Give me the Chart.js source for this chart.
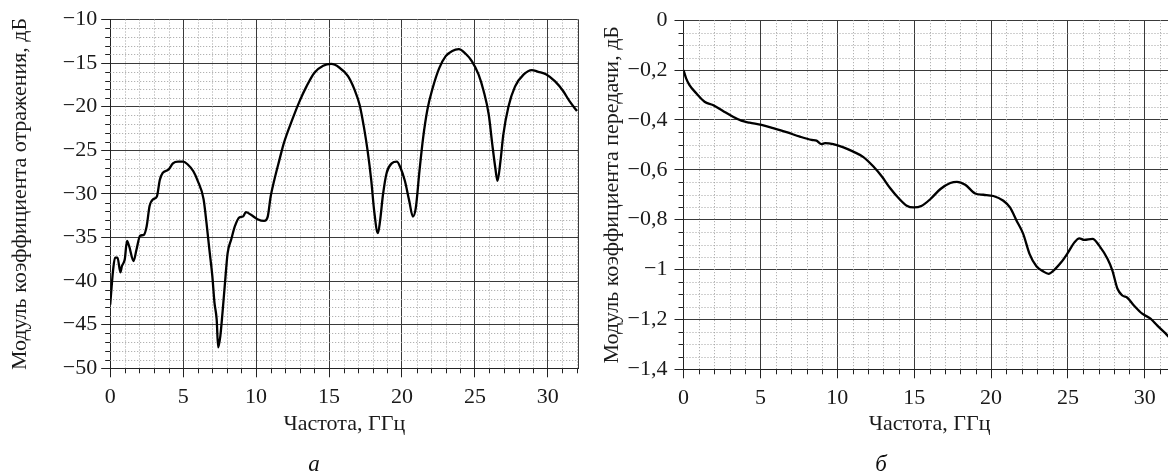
<!DOCTYPE html>
<html lang="ru">
<head>
<meta charset="utf-8">
<title>Модуль коэффициентов отражения и передачи</title>
<script src="https://cdn.jsdelivr.net/npm/chart.js@4.4.1/dist/chart.umd.min.js"></script>
<style>
  html, body { margin: 0; padding: 0; background: #fff; }
  body { width: 1168px; height: 472px; overflow: hidden; position: relative; }
  canvas { position: absolute; top: 0; }
  #chart-a { left: 0; }
  #chart-b { left: 584px; }
  .sub {
    position: absolute;
    font: italic 23px "Liberation Serif", "Times New Roman", serif;
    color: #111;
    line-height: 1;
    transform: translate(-50%, -50%);
  }
</style>
</head>
<body>
<canvas id="chart-a" width="584" height="472"></canvas>
<canvas id="chart-b" width="600" height="472"></canvas>
<div class="sub" style="left:314px; top:463px">а</div>
<div class="sub" style="left:881px; top:463px">б</div>
<script>
  'use strict';

  // (a) reflection, dB
  const freqA = [
    0, 0.1, 0.2, 0.33, 0.5, 0.7, 0.8, 1.0, 1.15, 1.3, 1.6, 1.8, 2.05, 2.3, 2.5, 2.7, 2.95, 3.2, 3.4, 3.6,
    4.0, 4.3, 4.65, 5.0, 5.3, 5.7, 6.0, 6.4, 6.6, 6.8, 7.0, 7.15, 7.3, 7.4, 7.55, 7.7, 7.85, 8.05, 8.3, 8.55,
    8.85, 9.1, 9.3, 9.65, 10.1, 10.55, 10.8, 11.0, 11.25, 11.6, 11.9, 12.5, 13.0, 13.45, 14.0, 14.6, 15.15, 15.7, 16.3, 16.75,
    17.1, 17.4, 17.65, 17.9, 18.1, 18.35, 18.5, 18.7, 18.95, 19.3, 19.65, 19.9, 20.2, 20.5, 20.75, 20.95, 21.2, 21.45, 21.75, 22.1,
    22.55, 23.0, 23.45, 23.9, 24.35, 24.8, 25.25, 25.6, 25.95, 26.2, 26.4, 26.55, 26.75, 26.95, 27.3, 27.75, 28.35, 28.9, 29.35, 29.9,
    30.5, 31.05, 31.5, 32.0
  ];
  const reflA = [
    -42.7, -40.6, -38.7, -37.3, -37.3, -39.0, -38.3, -37.5, -35.4, -36.0, -37.7, -36.4, -34.8, -34.7, -33.7, -31.4, -30.6, -30.3, -28.4, -27.6,
    -27.2, -26.5, -26.3, -26.3, -26.6, -27.4, -28.5, -30.6, -33.3, -36.4, -39.4, -42.5, -44.4, -47.6, -46.3, -43.6, -40.6, -36.8, -35.2, -33.7,
    -32.7, -32.6, -32.1, -32.4, -32.9, -33.1, -32.6, -30.3, -28.4, -26.1, -24.2, -21.4, -19.3, -17.7, -16.1, -15.3, -15.1, -15.5, -16.5, -18.05,
    -19.8, -22.4, -25.1, -28.5, -32.0, -34.5, -33.1, -30.1, -27.6, -26.5, -26.3, -27.0, -28.5, -30.8, -32.6, -31.6, -27.4, -23.6, -20.3, -17.9,
    -15.6, -14.2, -13.6, -13.4, -13.9, -14.8, -16.3, -18.2, -20.9, -24.4, -27.0, -28.5, -26.3, -23.2, -20.0, -17.7, -16.3, -15.8, -16.0, -16.3,
    -17.1, -18.2, -19.4, -20.5
  ];

  // (б) transmission, dB
  const freqB = [
    0, 0.17, 0.39, 0.83, 1.37, 1.91, 2.57, 3.22, 3.76, 4.3, 5.07, 5.83, 6.7, 7.57, 8.33, 8.65, 8.98, 9.2, 9.74, 10.4,
    11.04, 11.7, 12.35, 12.9, 13.43, 13.98, 14.52, 14.96, 15.5, 16.06, 16.71, 17.35, 17.78, 18.32, 18.97, 19.5, 20.15, 20.8, 21.23, 21.66,
    22.09, 22.5, 22.95, 23.38, 23.74, 24.13, 24.56, 24.99, 25.42, 25.74, 26.06, 26.6, 27.03, 27.57, 27.89, 28.22, 28.54, 28.86, 29.29, 29.83,
    30.37, 30.8, 31.33, 31.7
  ];
  const transB = [
    -0.2, -0.233, -0.26, -0.293, -0.327, -0.34, -0.364, -0.387, -0.403, -0.411, -0.42, -0.433, -0.449, -0.467, -0.48, -0.483, -0.497, -0.493, -0.497, -0.51,
    -0.527, -0.549, -0.587, -0.627, -0.673, -0.713, -0.744, -0.751, -0.744, -0.717, -0.677, -0.653, -0.648, -0.66, -0.695, -0.7, -0.705, -0.724, -0.751, -0.804,
    -0.857, -0.937, -0.987, -1.007, -1.017, -1.0, -0.971, -0.933, -0.891, -0.875, -0.881, -0.877, -0.904, -0.957, -1.004, -1.077, -1.104, -1.113, -1.144, -1.177,
    -1.197, -1.224, -1.255, -1.28
  ];

  // labelled ticks
  const xTicks = [0, 5, 10, 15, 20, 25, 30];
  const yTicksA = [-50, -45, -40, -35, -30, -25, -20, -15, -10];
  const yTicksB = [-1.4, -1.2, -1, -0.8, -0.6, -0.4, -0.2, 0];

  const serif = '"Liberation Serif", "Times New Roman", serif';
  const textColor = '#1a1a1a';
  const CANVAS_H = 472;
  const FONT = 22;

  function isIn(list, v) {
    return list.some(t => Math.abs(t - v) < 1e-6);
  }

  function fmt(v) {
    const r = Math.round(v * 100) / 100;
    return (r === 0 ? '0' : String(r)).replace('-', '\u2212').replace('.', ',');
  }

  // dotted minor grid, short minor ticks, right border
  function minorGrid(xMajors, yMajors) {
    return {
      id: 'minorGrid',
      beforeDatasetsDraw(chart) {
        const { ctx, chartArea: a, scales: { x, y } } = chart;
        ctx.save();
        ctx.lineWidth = 1;

        ctx.strokeStyle = '#a0a0a0';
        ctx.setLineDash([1, 2]);
        x.ticks.forEach(t => {
          if (isIn(xMajors, t.value)) return;
          const px = Math.round(x.getPixelForValue(t.value)) + 0.5;
          ctx.beginPath(); ctx.moveTo(px, a.top); ctx.lineTo(px, a.bottom); ctx.stroke();
        });
        y.ticks.forEach(t => {
          if (isIn(yMajors, t.value)) return;
          const py = Math.round(y.getPixelForValue(t.value)) + 0.5;
          ctx.beginPath(); ctx.moveTo(a.left, py); ctx.lineTo(a.right, py); ctx.stroke();
        });

        ctx.setLineDash([]);
        ctx.strokeStyle = '#222';
        x.ticks.forEach(t => {
          if (isIn(xMajors, t.value)) return;
          const px = Math.round(x.getPixelForValue(t.value)) + 0.5;
          ctx.beginPath(); ctx.moveTo(px, a.bottom); ctx.lineTo(px, a.bottom + 5); ctx.stroke();
        });
        y.ticks.forEach(t => {
          if (isIn(yMajors, t.value)) return;
          const py = Math.round(y.getPixelForValue(t.value)) + 0.5;
          ctx.beginPath(); ctx.moveTo(a.left - 5, py); ctx.lineTo(a.left, py); ctx.stroke();
        });

        ctx.strokeStyle = '#3a3a3a';
        const rx = Math.round(a.right) + 0.5;
        ctx.beginPath(); ctx.moveTo(rx, a.top); ctx.lineTo(rx, a.bottom); ctx.stroke();
        ctx.restore();
      }
    };
  }

  function makeChart(id, opt) {
    const canvas = document.getElementById(id);
    const area = opt.area;
    const points = opt.xs.map((f, i) => ({ x: f, y: opt.ys[i] }));

    return new Chart(canvas, {
      type: 'line',
      data: {
        datasets: [{
          data: points,
          borderColor: '#000',
          borderWidth: 2.3,
          pointRadius: 0,
          fill: false,
          cubicInterpolationMode: 'monotone'
        }]
      },
      options: {
        responsive: false,
        animation: false,
        layout: {
          padding: { top: area.top, left: 0, right: canvas.width - area.right, bottom: 0 }
        },
        plugins: {
          legend: { display: false },
          tooltip: { enabled: false }
        },
        scales: {
          x: {
            type: 'linear',
            min: opt.xMin,
            max: opt.xMax,
            afterFit: s => { s.height = CANVAS_H - area.bottom; },
            ticks: {
              stepSize: 1,
              autoSkip: false,
              includeBounds: false,
              maxRotation: 0,
              padding: 7,
              color: textColor,
              font: { family: serif, size: FONT },
              callback: v => isIn(xTicks, v) ? fmt(v) : ''
            },
            grid: {
              lineWidth: 1,
              tickLength: 9,
              color: c => (c.tick && isIn(xTicks, c.tick.value)) ? '#3a3a3a' : 'rgba(0,0,0,0)',
              tickColor: c => (c.tick && isIn(xTicks, c.tick.value)) ? '#222' : 'rgba(0,0,0,0)'
            },
            border: { color: '#222', width: 1 },
            title: {
              display: true,
              text: 'Частота, ГГц',
              color: textColor,
              font: { family: serif, size: FONT },
              padding: { top: 0, bottom: 35 }
            }
          },
          y: {
            min: opt.yMin,
            max: opt.yMax,
            afterFit: s => { s.width = area.left; },
            ticks: {
              stepSize: opt.yStep,
              autoSkip: false,
              padding: opt.yPad,
              color: textColor,
              font: { family: serif, size: FONT },
              callback: v => isIn(opt.yTicks, v) ? fmt(v) : ''
            },
            grid: {
              lineWidth: 1,
              tickLength: 9,
              color: c => (c.tick && isIn(opt.yTicks, c.tick.value)) ? '#3a3a3a' : 'rgba(0,0,0,0)',
              tickColor: c => (c.tick && isIn(opt.yTicks, c.tick.value)) ? '#222' : 'rgba(0,0,0,0)'
            },
            border: { color: '#222', width: 1 },
            title: {
              display: true,
              text: opt.yTitle,
              color: textColor,
              font: { family: serif, size: FONT },
              padding: { top: opt.titlePad, bottom: 0 }
            }
          }
        }
      },
      plugins: [minorGrid(xTicks, opt.yTicks)]
    });
  }

  makeChart('chart-a', {
    xs: freqA, ys: reflA,
    xMin: 0, xMax: 32.1,
    yMin: -50, yMax: -10, yStep: 1, yTicks: yTicksA, yPad: 4,
    yTitle: 'Модуль коэффициента отражения, дБ',
    titlePad: 7,
    area: { left: 110.2, right: 579, top: 19.5, bottom: 368.3 }
  });

  makeChart('chart-b', {
    xs: freqB, ys: transB,
    xMin: 0, xMax: 32,
    yMin: -1.4, yMax: 0, yStep: 0.05, yTicks: yTicksB, yPad: 7,
    yTitle: 'Модуль коэффициента передачи, дБ',
    titlePad: 15,
    area: { left: 99.5, right: 591.6, top: 18.7, bottom: 369.3 }
  });
</script>
</body>
</html>
